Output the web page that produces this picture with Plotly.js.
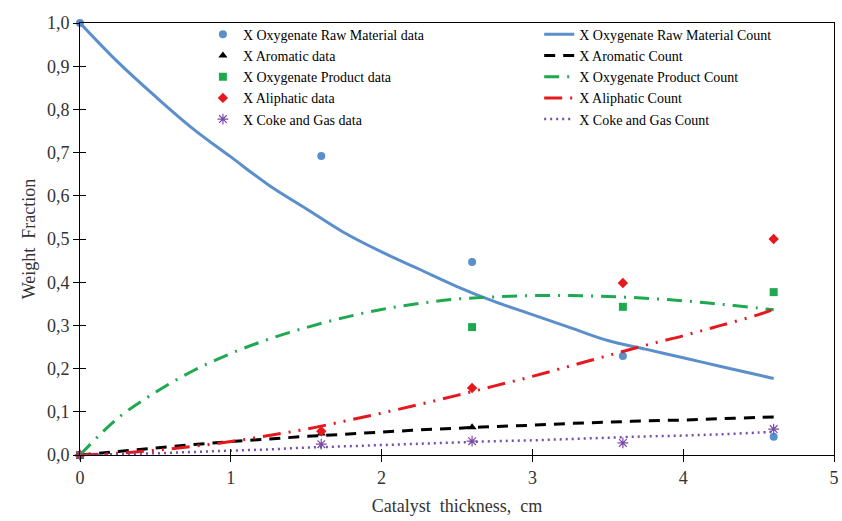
<!DOCTYPE html>
<html><head><meta charset="utf-8">
<script src="https://cdn.plot.ly/plotly-3.0.1.min.js"></script>
<style>html,body{margin:0;padding:0;background:#fff}#chart{width:842px;height:521px}</style>
</head><body><div id="chart"></div>
<script>
// measured data points
const dataX = [0, 1.6, 2.6, 3.6, 4.6];
const rawData = [1.0, 0.692, 0.447, 0.229, 0.042];
const aromX = [0, 1.6, 2.6];
const aromData = [0, 0.05, 0.064];
const prodX = [0, 2.6, 3.6, 4.6];
const prodData = [0, 0.296, 0.343, 0.377];
const aliphData = [0, 0.055, 0.155, 0.398, 0.5];
const cokeData = [0, 0.025, 0.032, 0.028, 0.06];

// model curves
const curveX = [0, 0.25, 0.5, 0.75, 1, 1.25, 1.5, 1.75, 2, 2.25, 2.5, 2.75, 3, 3.25, 3.5, 3.75, 4, 4.25, 4.5, 4.6];
const rawCount = [1.0, 0.91, 0.83, 0.755, 0.69, 0.625, 0.57, 0.515, 0.47, 0.43, 0.39, 0.355, 0.325, 0.295, 0.265, 0.245, 0.225, 0.205, 0.185, 0.177];
const aromCount = [0, 0.008, 0.016, 0.024, 0.031, 0.037, 0.043, 0.048, 0.053, 0.058, 0.062, 0.066, 0.069, 0.073, 0.076, 0.079, 0.081, 0.084, 0.087, 0.088];
const prodCount = [0, 0.085, 0.145, 0.195, 0.235, 0.268, 0.295, 0.318, 0.337, 0.351, 0.361, 0.366, 0.369, 0.369, 0.367, 0.363, 0.357, 0.349, 0.34, 0.336];
const aliphCount = [0, 0.004, 0.011, 0.02, 0.031, 0.045, 0.06, 0.078, 0.097, 0.117, 0.138, 0.16, 0.182, 0.206, 0.23, 0.254, 0.276, 0.3, 0.325, 0.337];
const cokeCount = [0, 0.002, 0.004, 0.007, 0.01, 0.013, 0.017, 0.02, 0.023, 0.026, 0.029, 0.032, 0.034, 0.037, 0.04, 0.043, 0.045, 0.048, 0.052, 0.054];

const xTicks = [0, 1, 2, 3, 4, 5];
const yTicks = [0, 0.1, 0.2, 0.3, 0.4, 0.5, 0.6, 0.7, 0.8, 0.9, 1.0];

const names = {
  rawD: 'X Oxygenate Raw Material data', rawC: 'X Oxygenate Raw Material Count',
  aromD: 'X Aromatic data', aromC: 'X Aromatic Count',
  prodD: 'X Oxygenate Product data', prodC: 'X Oxygenate Product Count',
  aliD: 'X Aliphatic data', aliC: 'X Aliphatic Count',
  cokeD: 'X Coke and Gas data', cokeC: 'X Coke and Gas Count'
};

const blue = '#5b8fcb', green = '#1ea84f', red = '#e5181e', purple = '#7a4aa8';

const traces = [
  {x: dataX, y: rawData, mode: 'markers', name: names.rawD, legend: 'legend', marker: {symbol: 'circle', size: 8, color: blue}, cliponaxis: false},
  {x: aromX, y: aromData, mode: 'markers', name: names.aromD, legend: 'legend', marker: {symbol: 'triangle-up', size: 8, color: '#000'}, cliponaxis: false},
  {x: prodX, y: prodData, mode: 'markers', name: names.prodD, legend: 'legend', marker: {symbol: 'square', size: 8, color: green}, cliponaxis: false},
  {x: dataX, y: aliphData, mode: 'markers', name: names.aliD, legend: 'legend', marker: {symbol: 'diamond', size: 8, color: red}, cliponaxis: false},
  {x: dataX, y: cokeData, mode: 'markers', name: names.cokeD, legend: 'legend', marker: {symbol: 'asterisk-open', size: 9, color: purple, line: {color: purple, width: 1.2}}, cliponaxis: false},
  {x: curveX, y: rawCount, mode: 'lines', name: names.rawC, legend: 'legend2', line: {color: blue, width: 3, shape: 'spline'}},
  {x: curveX, y: aromCount, mode: 'lines', name: names.aromC, legend: 'legend2', line: {color: '#000', width: 3, dash: '11px,8px', shape: 'spline'}},
  {x: curveX, y: prodCount, mode: 'lines', name: names.prodC, legend: 'legend2', line: {color: green, width: 3, dash: '15px,8px,2px,8px', shape: 'spline'}},
  {x: curveX, y: aliphCount, mode: 'lines', name: names.aliC, legend: 'legend2', line: {color: red, width: 3, dash: '18px,8px,2px,8px,2px,8px', shape: 'spline'}},
  {x: curveX, y: cokeCount, mode: 'lines', name: names.cokeC, legend: 'legend2', line: {color: purple, width: 2.5, dash: '2px,4px', shape: 'spline'}},
  // overlay axes for inside ticks (cross ticks)
  {x: [0], y: [0], xaxis: 'x2', yaxis: 'y2', mode: 'markers', marker: {opacity: 0}, showlegend: false, hoverinfo: 'skip'}
];

const serif = 'Liberation Serif, Times New Roman, serif';
const legFont = {family: serif, size: 14, color: '#000'};

const layout = {
  width: 842, height: 521,
  margin: {l: 80, r: 8, t: 23, b: 66},
  paper_bgcolor: '#fff', plot_bgcolor: '#fff',
  separators: ', ',
  font: {family: serif, color: '#333', size: 15},
  showlegend: true,
  legend: {x: 0.163, y: 1.01, xanchor: 'left', yanchor: 'top', itemwidth: 30, tracegroupgap: 0,
    bgcolor: 'rgba(0,0,0,0)', font: legFont},
  legend2: {x: 0.609, y: 1.01, xanchor: 'left', yanchor: 'top', itemwidth: 30, tracegroupgap: 0,
    bgcolor: 'rgba(0,0,0,0)', font: legFont},
  xaxis: {
    range: [0, 5], tickvals: xTicks, ticktext: xTicks.map(String),
    showline: true, linecolor: '#000', linewidth: 1, mirror: true,
    ticks: 'outside', ticklen: 6, tickcolor: '#000', showgrid: false, zeroline: false,
    tickfont: {family: serif, size: 18, color: '#333'},
    title: {text: 'Catalyst  thickness,  cm', font: {family: serif, size: 18, color: '#333'}, standoff: 12}
  },
  yaxis: {
    range: [0, 1], tickvals: yTicks, tickformat: '.1f',
    showline: true, linecolor: '#000', linewidth: 1, mirror: true,
    ticks: 'outside', ticklen: 6, tickcolor: '#000', showgrid: false, zeroline: false,
    tickfont: {family: serif, size: 18, color: '#333'},
    title: {text: 'Weight  Fraction', font: {family: serif, size: 18, color: '#333'}, standoff: 6}
  },
  xaxis2: {overlaying: 'x', matches: 'x', range: [0, 5], tickvals: xTicks, showticklabels: false, ticks: 'inside', ticklen: 6, tickcolor: '#000', showgrid: false, zeroline: false, showline: false, side: 'bottom'},
  yaxis2: {overlaying: 'y', range: [0, 1], tickvals: yTicks, showticklabels: false, ticks: 'inside', ticklen: 6, tickcolor: '#000', showgrid: false, zeroline: false, showline: false, side: 'left'}
};

Plotly.newPlot('chart', traces, layout, {displayModeBar: false, staticPlot: true});
</script></body></html>
